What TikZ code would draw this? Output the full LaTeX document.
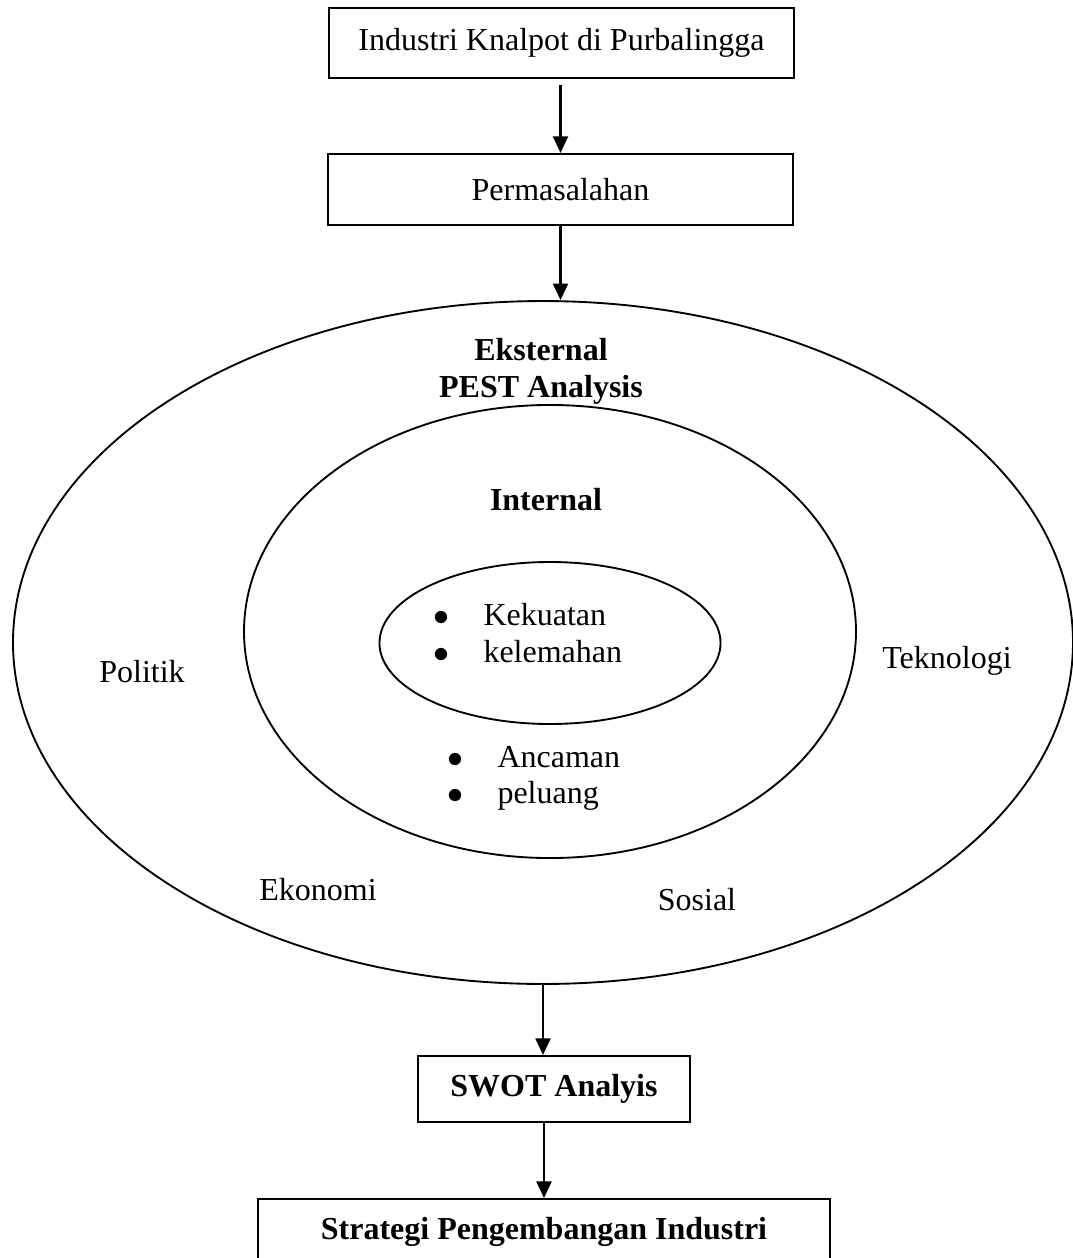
\documentclass[tikz,border=0pt]{standalone}
\usepackage{fontspec}
\setmainfont{Liberation Serif}
\usetikzlibrary{arrows.meta,shapes.geometric}
\begin{document}
\begin{tikzpicture}[x=0.375pt,y=-0.375pt,
  font=\fontsize{12}{14}\selectfont,
  every node/.style={inner sep=0pt},
  boxnode/.style={draw,line width=0.8pt,align=center},
  ring/.style={draw,ellipse,line width=0.7pt,inner sep=0pt},
  arr/.style={line width=0.85pt,-{Triangle[length=6.2pt,width=5.6pt]}},
  lbl/.style={anchor=base},
  bul/.style={anchor=base west}]
\useasboundingbox (0,0) rectangle (1073,1258);
\clip (0,0) rectangle (1073,1258);

% boxes
\node[boxnode,minimum width=174.4pt,minimum height=26.25pt] (box1) at (561.5,43) {Industri Knalpot di Purbalingga};
\node[boxnode,minimum width=174.4pt,minimum height=26.6pt] (box2) at (560.5,189.5) {Permasalahan};
\node[boxnode,minimum width=102pt,minimum height=24.75pt,font=\fontsize{12}{14}\selectfont\bfseries] (swot) at (554,1089) {SWOT Analyis};
\node[boxnode,anchor=north,minimum width=214.5pt,inner ysep=6.75pt,text height=8.25pt,text depth=22.5pt,font=\fontsize{12}{14}\selectfont\bfseries] (strat) at (544,1198) {Strategi Pengembangan Industri};

% ellipses
\node[ring,minimum width=397.5pt,minimum height=256.1pt] (outer) at (543,642.5) {};
\node[ring,minimum width=229.5pt,minimum height=169.9pt] (middle) at (550,631.5) {};
\node[ring,minimum width=127.9pt,minimum height=60.75pt] (inner) at (550,643) {};

% arrows
\draw[arr,shorten <=2.2pt] (box1.south -| box2.north) -- (box2.north);
\draw[arr] (box2.south) -- (box2.south |- outer.north);
\draw[arr] (outer.south) -- (outer.south |- swot.north);
\draw[arr] (swot.south -| strat.north) -- (strat.north);

% titles
\node[lbl,font=\fontsize{12}{14}\selectfont\bfseries] (ekst) at (541,360) {Eksternal};
\node[lbl,font=\fontsize{12}{14}\selectfont\bfseries] (pest) at (541,397) {PEST Analysis};
\node[lbl,font=\fontsize{12}{14}\selectfont\bfseries] (intl) at (546,510) {Internal};

% inner bullets
\node[lbl] (b1) at (441,625) {$\bullet$};
\node[bul] (kek) at (483,625) {Kekuatan};
\node[lbl] (b2) at (441,662) {$\bullet$};
\node[bul] (kel) at (483,662) {kelemahan};

% middle bullets
\node[lbl] (b3) at (455,767) {$\bullet$};
\node[bul] (anc) at (497,767) {Ancaman};
\node[lbl] (b4) at (455,803) {$\bullet$};
\node[bul] (pel) at (497,803) {peluang};

% PEST labels
\node[lbl] (pol) at (142,682) {Politik};
\node[lbl] (tek) at (947,668) {Teknologi};
\node[lbl] (eko) at (318,900) {Ekonomi};
\node[lbl] (sos) at (697,910) {Sosial};
\end{tikzpicture}
\end{document}
